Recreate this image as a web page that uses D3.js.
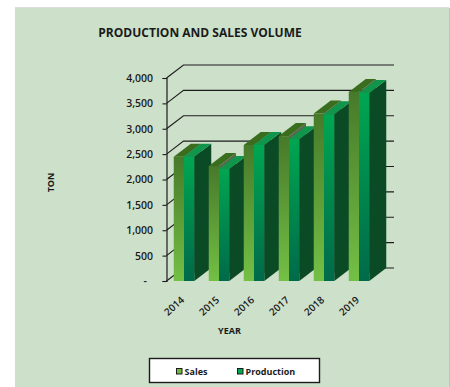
<!DOCTYPE html>
<html>
<head>
<meta charset="utf-8">
<script src="https://cdn.jsdelivr.net/npm/d3@7/dist/d3.min.js"></script>
<style>
html,body{margin:0;padding:0;background:#fff;overflow:hidden}
svg{display:block}
text{font-family:"Open Sans",sans-serif;fill:#1a1a1a}
</style>
</head>
<body>
<svg id="chart" width="450" height="387"></svg>
<script>
const years = ["2014","2015","2016","2017","2018","2019"];
const sales = [2450,2265,2680,2855,3300,3725];
const production = [2450,2205,2680,2795,3285,3705];
const yTicks = [0,500,1000,1500,2000,2500,3000,3500,4000];
const seriesNames = ["Sales","Production"];

const svg = d3.select("#chart");
const depthX = 17, depthY = -13;

const y = d3.scaleLinear().domain([0,4000]).range([281,78]);
const x = d3.scaleBand().domain(years).range([166.5,376.5]).paddingInner(0.414).paddingOuter(0.207);
const inner = d3.scaleBand().domain(seriesNames).range([0,x.bandwidth()]);

// each column's front face shades over its own height
const defs = svg.append("defs");
function vGradient(id, top, bottom){
  const g = defs.append("linearGradient").attr("id",id)
    .attr("x1",0).attr("x2",0).attr("y1",0).attr("y2",1);
  g.append("stop").attr("offset","0%").attr("stop-color",top);
  g.append("stop").attr("offset","100%").attr("stop-color",bottom);
}
vGradient("salesFront","#47792a","#74c045");
vGradient("prodFront","#00a651","#006a4a");

// panel
svg.append("rect").attr("x",15).attr("y",8).attr("width",434).attr("height",379)
  .attr("fill","#cde0ca");
svg.append("line").attr("x1",15).attr("x2",449).attr("y1",7.5).attr("y2",7.5)
  .attr("stroke","#dcdcdc");
svg.append("line").attr("x1",449.5).attr("x2",449.5).attr("y1",8).attr("y2",387)
  .attr("stroke","#b9c9b6");

svg.append("text").attr("x",200).attr("y",36.5).attr("text-anchor","middle")
  .attr("font-size",12).attr("font-weight",700).text("PRODUCTION AND SALES VOLUME");

// back-wall gridlines with their floor connectors
const wall = svg.append("g").attr("stroke","#1c1c1c").attr("stroke-width",1.1).attr("fill","none");
yTicks.forEach(t=>{
  const yy = y(t);
  wall.append("path").attr("d",d3.line()([[166.5,yy],[166.5+depthX,yy+depthY],[394,yy+depthY]]));
});

// left axis with thousands labels, zero shown as a dash
const axis = d3.axisLeft(y).tickValues(yTicks).tickSize(4).tickPadding(9.5)
  .tickFormat(d=> d===0 ? "-" : d3.format(",")(d));
const axisG = svg.append("g").attr("transform","translate(166.5,0)").call(axis);
axisG.selectAll("path.domain").attr("stroke","#1c1c1c").attr("stroke-width",1.2);
axisG.selectAll(".tick line").attr("stroke","#1c1c1c").attr("stroke-width",1.1);
axisG.selectAll("text").attr("font-size",10.5).attr("font-weight",600)
  .style("font-family",'"Open Sans",sans-serif').attr("fill","#1a1a1a");
axisG.selectAll(".tick").filter(d=>d===0).select("text").attr("dx",-6);

// 3D columns: top and side faces, then the front face
function drawBar(g, year, name, value, frontFill, topFill, sideFill){
  const x0 = x(year)+inner(name), x1 = x0+inner.bandwidth();
  const yT = y(value), yB = y(0);
  g.append("path").attr("fill",sideFill)
    .attr("d",d3.line()([[x1,yT],[x1+depthX,yT+depthY],[x1+depthX,yB+depthY],[x1,yB]])+"Z");
  g.append("path").attr("fill",topFill)
    .attr("d",d3.line()([[x0,yT],[x0+depthX,yT+depthY],[x1+depthX,yT+depthY],[x1,yT]])+"Z");
  g.append("rect").attr("x",x0).attr("y",yT).attr("width",x1-x0).attr("height",yB-yT)
    .attr("fill",frontFill);
}
const bars = svg.append("g");
years.forEach((yr,i)=>{
  const g = bars.append("g");
  drawBar(g,yr,"Sales",sales[i],"url(#salesFront)","#3b6d1f","#59694f");
  drawBar(g,yr,"Production",production[i],"url(#prodFront)","#0f964b","#0a4a25");
});

// category labels
svg.append("g").selectAll("text").data(years).join("text")
  .attr("transform",d=>`translate(${x(d)+1},${306.5}) rotate(-42)`)
  .attr("text-anchor","middle").attr("dominant-baseline","middle")
  .attr("font-size",10).attr("font-weight",600).text(d=>d);

svg.append("text").attr("x",229.5).attr("y",334).attr("text-anchor","middle")
  .attr("font-size",9).attr("font-weight",700).text("YEAR");
svg.append("text").attr("transform","translate(54,182.5) rotate(-90)").attr("text-anchor","middle")
  .attr("font-size",9).attr("font-weight",700).text("TON");

// legend
svg.append("rect").attr("x",149.5).attr("y",358.5).attr("width",170).attr("height",24)
  .attr("fill","#fff").attr("stroke","#1c1c1c").attr("stroke-width",1.4);
const legendX = d3.scaleOrdinal().domain(seriesNames).range([176.5,237.5]);
const legendFill = d3.scaleOrdinal().domain(seriesNames).range(["#74b843","#00a651"]);
seriesNames.forEach(n=>{
  svg.append("rect").attr("x",legendX(n)).attr("y",368.5).attr("width",5.5).attr("height",5.5)
    .attr("fill",legendFill(n)).attr("stroke","#1c1c1c").attr("stroke-width",1);
  svg.append("text").attr("x",legendX(n)+8).attr("y",375).attr("font-size",9).attr("font-weight",700).text(n);
});
</script>
</body>
</html>
